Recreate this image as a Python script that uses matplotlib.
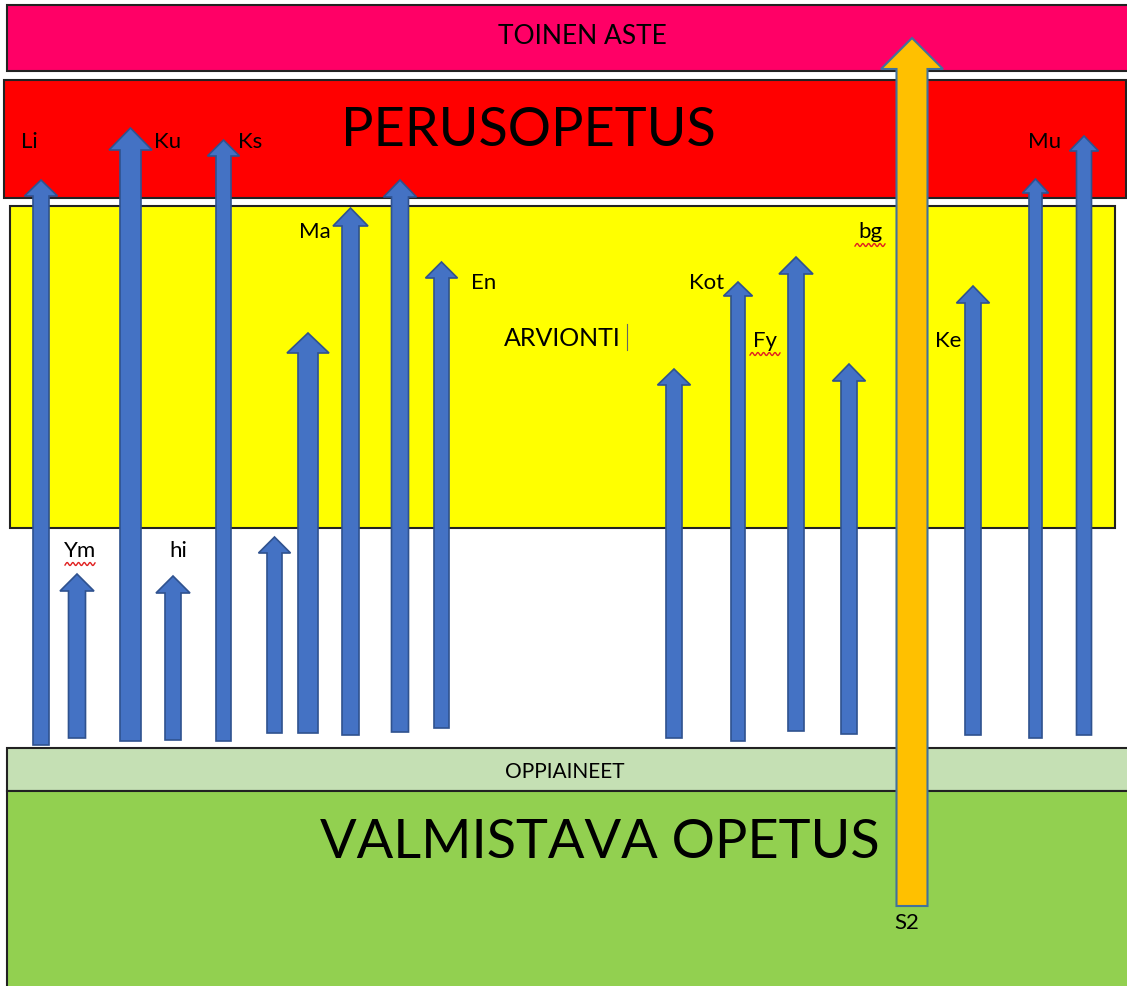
#!/usr/bin/env python3

"""Diagram: subjects flowing from preparatory education up to secondary level."""

import numpy as np
import matplotlib
matplotlib.use('Agg')
import matplotlib.pyplot as plt
from matplotlib.patches import Rectangle, FancyArrow

plt.rcParams['font.family'] = ['Lato', 'DejaVu Sans']

W, H = 1127, 986

# horizontal bands: label, left, top, right, bottom, fill, font size
band_labels = ['TOINEN ASTE', 'PERUSOPETUS', 'ARVIONTI', 'OPPIAINEET', 'VALMISTAVA OPETUS']
band_left = [7, 4, 10, 7, 7]
band_top = [5, 80, 206, 748, 791]
band_right = [1130, 1126, 1115, 1130, 1130]
band_bottom = [71, 198, 528, 791, 990]
band_colors = ['#ff0066', '#ff0000', '#ffff00', '#c5e0b4', '#92d050']
band_text_xy = [(582, 36), (528, 130), (562, 339), (565, 772), (600, 842)]
band_text_size = [19, 39, 18, 15, 39]

# blue subject arrows
arrow_x = [41, 77, 130.5, 173, 223.5, 274.5, 308, 350.5, 400, 441.5,
           674, 738, 796, 849, 973, 1035.5, 1084]
arrow_top = [180, 574, 128, 576, 140, 537, 333, 208, 180, 262,
             369, 282, 257, 364, 286, 179, 136]
arrow_bottom = [745, 738, 741, 740, 741, 733, 733, 735, 732, 728,
                738, 741, 731, 734, 735, 738, 735]
arrow_shaft = [16, 17, 21, 16, 15, 15, 20, 17, 17, 15,
               16, 14, 16, 16, 16, 13, 15]
arrow_head = [33, 34, 43, 34, 32, 32, 42, 35, 33, 32,
              33, 29, 34, 33, 33, 26, 29]
arrow_head_len = [16, 17, 22, 17, 16, 16, 20, 18, 17, 16,
                  16, 14, 17, 17, 17, 14, 15]

# orange S2 arrow
s2_x, s2_top, s2_bottom, s2_shaft, s2_head, s2_head_len = 912, 38, 906, 31, 62, 31

# subject labels
label_text = ['Li', 'Ku', 'Ks', 'Ma', 'En', 'Ym', 'hi', 'Kot', 'Fy', 'bg', 'Ke', 'Mu', 'S2']
label_xy = [(29, 142), (168, 142), (250, 142), (315, 232), (484, 283), (80, 551),
            (178, 551), (707, 283), (765, 341), (870, 232), (948, 341), (1045, 142), (907, 923)]
squiggle_under = ['Ym', 'Fy', 'bg']


def main():
    fig = plt.figure(figsize=(W / 100, H / 100), dpi=100)
    ax = fig.add_axes([0, 0, 1, 1])
    ax.set_xlim(0, W)
    ax.set_ylim(H, 0)
    ax.axis('off')

    for i, name in enumerate(band_labels):
        ax.add_patch(Rectangle((band_left[i], band_top[i]),
                               band_right[i] - band_left[i], band_bottom[i] - band_top[i],
                               facecolor=band_colors[i], edgecolor='#222222', lw=1.5, zorder=1))
        x, y = band_text_xy[i]
        ax.text(x, y, name, fontsize=band_text_size[i], ha='center', va='center',
                color='black', zorder=5)

    # text cursor after ARVIONTI
    ax.plot([627, 627], [324, 350], color='#666666', lw=0.8, zorder=5)

    for x, top, bot, w, hw, hl in zip(arrow_x, arrow_top, arrow_bottom,
                                      arrow_shaft, arrow_head, arrow_head_len):
        ax.add_patch(FancyArrow(x, bot, 0, top - bot, width=w, head_width=hw,
                                head_length=hl, length_includes_head=True,
                                facecolor='#4472c4', edgecolor='#2f528f', lw=1.2, zorder=3))

    ax.add_patch(FancyArrow(s2_x, s2_bottom, 0, s2_top - s2_bottom, width=s2_shaft,
                            head_width=s2_head, head_length=s2_head_len,
                            length_includes_head=True, facecolor='#ffc000',
                            edgecolor='#41719c', lw=1.5, zorder=4))

    for text, (x, y) in zip(label_text, label_xy):
        ax.text(x, y, text, fontsize=16, ha='center', va='center', color='black', zorder=6)
        if text in squiggle_under:
            xs = np.linspace(x - 15, x + 15, 60)
            ax.plot(xs, y + 13 + 1.5 * np.sin((xs - x) * 1.1), color='#e02020', lw=1, zorder=6)

    fig.savefig('out.png', dpi=100)


if __name__ == '__main__':
    main()
